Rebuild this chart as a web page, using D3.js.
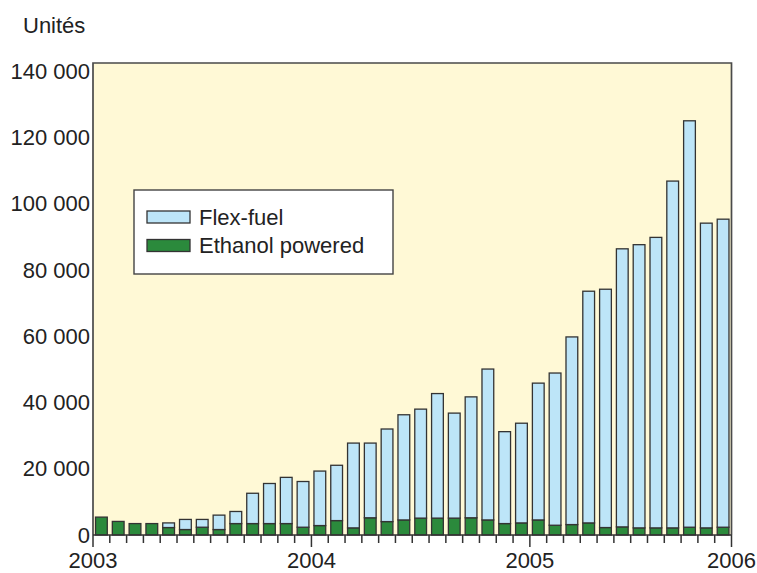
<!DOCTYPE html>
<html>
<head>
<meta charset="utf-8">
<script src="https://cdn.jsdelivr.net/npm/d3@7/dist/d3.min.js"></script>
<style>
  html, body { margin: 0; padding: 0; background: #ffffff; }
  svg { display: block; }
  text { font-family: "Liberation Sans", Arial, Helvetica, sans-serif; fill: #222; }
</style>
</head>
<body>
<svg id="chart" width="757" height="573"></svg>
<script>
// ---- Data (monthly registrations, units) ----
const months = [
  "2003-01","2003-02","2003-03","2003-04","2003-05","2003-06","2003-07","2003-08","2003-09","2003-10",
  "2003-11","2003-12","2004-01","2004-02","2004-03","2004-04","2004-05","2004-06","2004-07","2004-08",
  "2004-09","2004-10","2004-11","2004-12","2005-01","2005-02","2005-03","2005-04","2005-05","2005-06",
  "2005-07","2005-08","2005-09","2005-10","2005-11","2005-12","2006-01","2006-02"
];
const ethanolPowered = [
  5400, 4100, 3450, 3450, 2250, 1650, 2350, 1650, 3450, 3450,
  3450, 3450, 2350, 2850, 4350, 2150, 5200, 4050, 4550, 5100,
  5100, 5100, 5200, 4550, 3450, 3650, 4550, 2950, 3150, 3650,
  2250, 2450, 2150, 2150, 2150, 2350, 2150, 2350
];
const flexFuel = [
  0, 0, 0, 0, 1400, 3050, 2350, 4350, 3650, 9150,
  12100, 13950, 13800, 16450, 16700, 25600, 22550, 27950, 31750, 32900,
  37600, 31700, 36500, 45550, 27750, 30100, 41300, 45950, 56650, 69950,
  71950, 83950, 85500, 87700, 104700, 122700, 92000, 93000
];
const seriesNames = ["Ethanol powered", "Flex-fuel"];
const yTickValues = [0, 20000, 40000, 60000, 80000, 100000, 120000, 140000];
const yearLabels = ["2003", "2004", "2005", "2006"];
const yearTickIndex = [0, 13, 26, 38];
const yAxisTitle = "Unités";

// ---- Layout & style ----
const colors = { "Ethanol powered": "#2b8a3c", "Flex-fuel": "#bde5f8" };
const plot = { left: 93, right: 731.5, top: 63, bottom: 535 };
const fontSize = 22;

const svg = d3.select("#chart");

const rows = months.map((m, i) => ({ month: m, "Ethanol powered": ethanolPowered[i], "Flex-fuel": flexFuel[i] }));
const stacked = d3.stack().keys(seriesNames)(rows);

const x = d3.scaleBand().domain(months).range([plot.left, plot.right]).paddingInner(0.3).paddingOuter(0.15);
const y = d3.scaleLinear().domain([0, 142500]).range([plot.bottom, plot.top]);

// plot background
svg.append("rect")
  .attr("x", plot.left).attr("y", plot.top)
  .attr("width", plot.right - plot.left).attr("height", plot.bottom - plot.top)
  .attr("fill", "#fff9d6");

// bars
svg.append("g").selectAll("g")
  .data(stacked)
  .join("g")
  .attr("fill", d => colors[d.key])
  .selectAll("rect")
  .data(d => d.filter(s => s[1] - s[0] > 0))
  .join("rect")
  .attr("x", d => x(d.data.month))
  .attr("width", x.bandwidth())
  .attr("y", d => y(d[1]))
  .attr("height", d => y(d[0]) - y(d[1]))
  .attr("stroke", "#333")
  .attr("stroke-width", 1.3);

// frame (left, top, right)
svg.append("path")
  .attr("d", `M${plot.left},${plot.bottom} V${plot.top} H${plot.right} V${plot.bottom}`)
  .attr("fill", "none").attr("stroke", "#4a4a4a").attr("stroke-width", 1.7);

// bottom axis with month ticks
const step = (plot.right - plot.left) / months.length;
const boundaryIdx = d3.range(0, months.length + 1);
const gx = svg.append("g");
gx.append("line")
  .attr("x1", plot.left).attr("x2", plot.right)
  .attr("y1", plot.bottom).attr("y2", plot.bottom)
  .attr("stroke", "#333").attr("stroke-width", 1.5);
gx.selectAll("line.tick")
  .data(boundaryIdx)
  .join("line")
  .attr("class", "tick")
  .attr("x1", i => plot.left + i * step).attr("x2", i => plot.left + i * step)
  .attr("y1", plot.bottom)
  .attr("y2", i => plot.bottom + (yearTickIndex.includes(i) ? 12 : 8))
  .attr("stroke", "#333").attr("stroke-width", 1.5);
gx.selectAll("text")
  .data(yearLabels)
  .join("text")
  .attr("x", (d, k) => plot.left + yearTickIndex[k] * step)
  .attr("y", 567.5)
  .attr("text-anchor", "middle")
  .attr("font-size", fontSize)
  .text(d => d);

// left axis labels
const fr = d3.formatLocale({ decimal: ",", thousands: " ", grouping: [3], currency: ["", " €"] });
const yAxis = d3.axisLeft(y).tickValues(yTickValues).tickSize(0).tickPadding(3).tickFormat(fr.format(","));
const gy = svg.append("g").attr("transform", `translate(${plot.left},0)`).call(yAxis);
gy.select(".domain").remove();
gy.selectAll("text")
  .attr("font-size", fontSize)
  .attr("font-family", "'Liberation Sans', Arial, sans-serif")
  .attr("fill", "#222");

// axis title
svg.append("text")
  .attr("x", 23).attr("y", 33)
  .attr("font-size", fontSize)
  .text(yAxisTitle);

// legend
const lg = svg.append("g");
lg.append("rect")
  .attr("x", 134).attr("y", 190).attr("width", 259).attr("height", 84)
  .attr("fill", "#ffffff").attr("stroke", "#444").attr("stroke-width", 1.4);
const legendOrder = ["Flex-fuel", "Ethanol powered"];
const li = lg.selectAll("g.item").data(legendOrder).join("g")
  .attr("class", "item")
  .attr("transform", (d, i) => `translate(147,${211 + i * 28.5})`);
li.append("rect")
  .attr("width", 43).attr("height", 12)
  .attr("fill", d => colors[d]).attr("stroke", "#333").attr("stroke-width", 1.3);
li.append("text")
  .attr("x", 52).attr("y", 6).attr("dy", "0.35em")
  .attr("font-size", fontSize)
  .text(d => d);
</script>
</body>
</html>
